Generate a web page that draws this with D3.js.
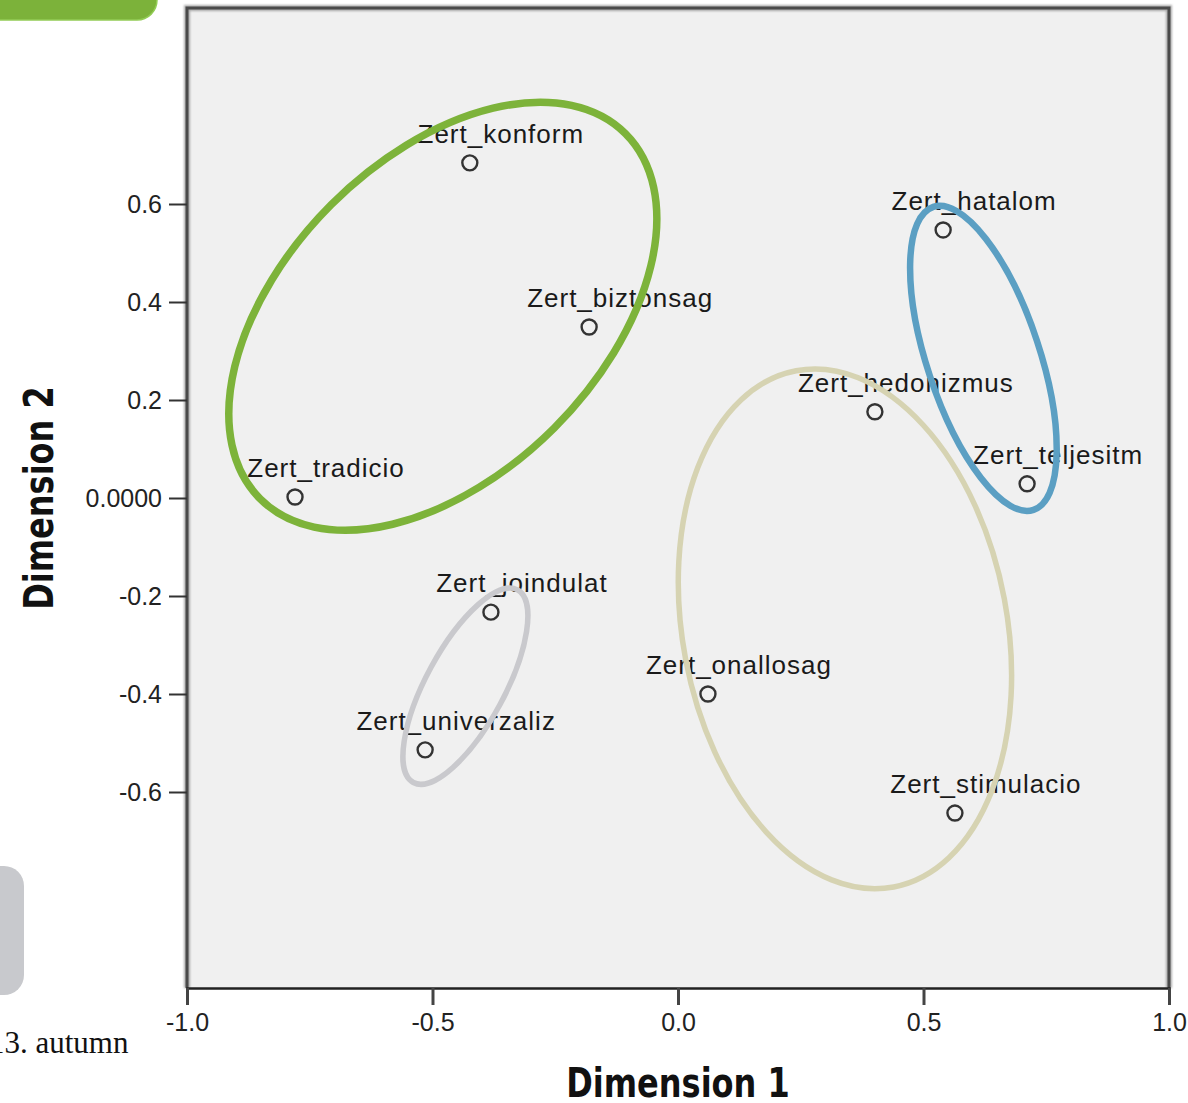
<!DOCTYPE html>
<html>
<head>
<meta charset="utf-8">
<script src="https://cdn.jsdelivr.net/npm/d3@7"></script>
<style>
  html, body { margin: 0; padding: 0; background: #ffffff; }
  svg { display: block; }
</style>
</head>
<body>
<svg id="chart" width="1188" height="1103"></svg>
<script>
// Object points in the two-dimensional MDS solution
const labels = ["Zert_konform", "Zert_biztonsag", "Zert_tradicio", "Zert_hatalom",
  "Zert_hedonizmus", "Zert_teljesitm", "Zert_joindulat", "Zert_univerzaliz",
  "Zert_onallosag", "Zert_stimulacio"];
const dim1 = [-0.424, -0.181, -0.780, 0.540, 0.401, 0.711, -0.381, -0.515, 0.061, 0.564];
const dim2 = [0.684, 0.349, 0.002, 0.547, 0.176, 0.029, -0.233, -0.514, -0.400, -0.643];

// Axis ticks
const xTicks = [-1.0, -0.5, 0.0, 0.5, 1.0];
const yTicks = [-0.6, -0.4, -0.2, 0.0, 0.2, 0.4, 0.6];

// Grouping ellipses (centre, semi-axes in dimension units, tilt in degrees)
const groupColors = ["#7db33a", "#5b9fc3", "#d6d3b2", "#c9c9cd"];
const groupCx = [-0.479, 0.622, 0.340, -0.433];
const groupCy = [0.371, 0.285, -0.267, -0.384];
const groupA = [0.526, 0.325, 0.535, 0.223];
const groupB = [0.322, 0.115, 0.331, 0.080];
const groupTilt = [45, -71.7, -79.3, 61.6];
const groupWidth = [7.5, 6.5, 5.5, 5.5];

(function draw() {
  const svg = d3.select("#chart");
  const pL = 187, pR = 1169, pT = 8, pB = 988;

  const x = d3.scaleLinear().domain([-1, 1]).range([pL, pR]);
  const y = d3.scaleLinear().domain([-1, 1]).range([pB, pT]);

  const loc = d3.formatLocale({decimal: ".", thousands: ",", grouping: [3], currency: ["", ""], minus: "-"});
  const f1 = loc.format(".1f");
  const f4 = loc.format(".4f");

  // Decorative slide shapes
  svg.append("rect").attr("x", -40).attr("y", -40).attr("width", 197).attr("height", 60)
    .attr("rx", 20).attr("fill", "#7cb23a").attr("stroke", "#92cc55").attr("stroke-width", 1.5);
  svg.append("rect").attr("x", -40).attr("y", 866).attr("width", 64).attr("height", 129)
    .attr("rx", 20).attr("fill", "#c8c9cd");

  // Plot background
  svg.append("rect").attr("x", pL).attr("y", pT).attr("width", pR - pL).attr("height", pB - pT)
    .attr("fill", "#f0f0f0");

  // Points and labels
  const pts = svg.append("g");
  labels.forEach((lab, i) => {
    const px = x(dim1[i]), py = y(dim2[i]);
    pts.append("circle").attr("cx", px).attr("cy", py).attr("r", 7.5)
      .attr("fill", "none").attr("stroke", "#333").attr("stroke-width", 2.4);
    pts.append("text").attr("x", px + 31).attr("y", py - 20)
      .attr("text-anchor", "middle")
      .attr("font-family", "'Liberation Sans', Arial, sans-serif")
      .attr("font-size", 26).attr("letter-spacing", 1).attr("fill", "#1a1a1a")
      .text(lab);
  });

  // Ellipses drawn over the labels
  const ell = svg.append("g");
  groupColors.forEach((c, i) => {
    const cx = x(groupCx[i]), cy = y(groupCy[i]);
    const rx = x(groupA[i]) - x(0), ry = y(0) - y(groupB[i]);
    ell.append("ellipse")
      .attr("cx", 0).attr("cy", 0).attr("rx", rx).attr("ry", ry)
      .attr("transform", `translate(${cx},${cy}) rotate(${-groupTilt[i]})`)
      .attr("fill", "none").attr("stroke", c).attr("stroke-width", groupWidth[i]);
  });

  // Frame with soft shadow
  const defs = svg.append("defs");
  defs.append("filter").attr("id", "soft").append("feGaussianBlur").attr("stdDeviation", 1.2);
  const framePath = `M${pL},${pB} V${pT} H${pR} V${pB}`;
  svg.append("path").attr("d", framePath)
    .attr("fill", "none").attr("stroke", "#777").attr("stroke-width", 6).attr("opacity", 0.6)
    .attr("filter", "url(#soft)");
  svg.append("path").attr("d", framePath)
    .attr("fill", "none").attr("stroke", "#4a4a4a").attr("stroke-width", 3);

  // X axis
  const xAxis = svg.append("g").attr("transform", `translate(0,${pB})`)
    .call(d3.axisBottom(x).tickValues(xTicks).tickFormat(f1).tickSize(17).tickPadding(8));
  xAxis.select(".domain").attr("stroke", "#222").attr("stroke-width", 2.5);
  xAxis.selectAll(".tick line").attr("stroke", "#444").attr("stroke-width", 3);
  xAxis.selectAll(".tick text")
    .attr("font-family", "'Liberation Sans', Arial, sans-serif").attr("font-size", 25).attr("fill", "#222");

  // Y axis
  const yAxis = svg.append("g").attr("transform", `translate(${pL},0)`)
    .call(d3.axisLeft(y).tickValues(yTicks).tickFormat(d => d === 0 ? f4(d) : f1(d)).tickSize(18).tickPadding(7));
  yAxis.select(".domain").remove();
  yAxis.selectAll(".tick line").attr("stroke", "#333").attr("stroke-width", 2);
  yAxis.selectAll(".tick text")
    .attr("font-family", "'Liberation Sans', Arial, sans-serif").attr("font-size", 25).attr("fill", "#222");

  // Axis titles
  svg.append("text")
    .attr("transform", `translate(${(pL + pR) / 2},1097) scale(1,1.25)`)
    .attr("text-anchor", "middle")
    .attr("font-family", "'DejaVu Sans', Verdana, sans-serif").attr("font-weight", "bold")
    .attr("font-size", 32).attr("fill", "#111")
    .text("Dimension 1");
  svg.append("text")
    .attr("transform", `translate(53,${(pT + pB) / 2}) rotate(-90) scale(1,1.25)`)
    .attr("text-anchor", "middle")
    .attr("font-family", "'DejaVu Sans', Verdana, sans-serif").attr("font-weight", "bold")
    .attr("font-size", 32).attr("fill", "#111")
    .text("Dimension 2");

  // Caption fragment at the lower left
  svg.append("text").attr("x", -11).attr("y", 1053)
    .attr("font-family", "'Liberation Serif', 'Times New Roman', serif")
    .attr("font-size", 31).attr("fill", "#111")
    .text("13. autumn");
})();
</script>
</body>
</html>
